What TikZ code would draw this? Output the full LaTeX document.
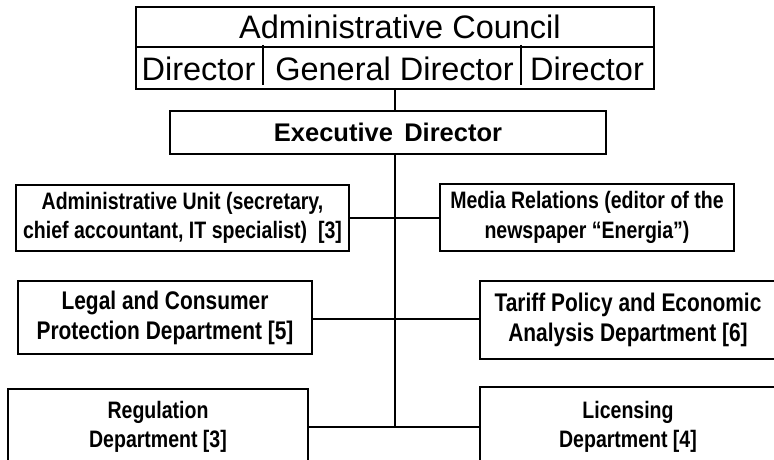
\documentclass[tikz,border=0pt]{standalone}
\usepackage{fontspec}
\setmainfont{Liberation Sans}
\newfontfamily\narrowfont[FakeStretch=0.82]{Liberation Sans}
\begin{document}
\begin{tikzpicture}[x=1pt,y=-1pt,
  frame/.style={draw, line width=1.6pt, inner sep=0pt},
  dept/.style={frame, align=center, font=\narrowfont\bfseries\fontsize{23.8}{29.5}\selectfont},
  bigdept/.style={dept, font=\narrowfont\bfseries\fontsize{25.5}{30}\selectfont},
  bigtxt/.style={inner sep=0pt, font=\fontsize{32.5}{36}\selectfont},
  conn/.style={line width=1.6pt}]
\useasboundingbox (0,0) rectangle (774,460);
% board
\node[frame, minimum width=518pt, minimum height=82pt] (board) at (395,48) {};
\draw[conn] (136,47) -- (654,47);
\draw[conn] (263,45) -- (263,85);
\draw[conn] (521,45) -- (521,85);
\node[bigtxt] (council) at (400,27) {Administrative Council};
\node[bigtxt] (dirl) at (198.5,69) {Director};
\node[bigtxt] (dirg) at (394.5,69) {General Director};
\node[bigtxt] (dirr) at (587,69) {Director};
% executive
\node[frame, minimum width=436pt, minimum height=43pt, font=\bfseries\fontsize{25.5}{29}\selectfont] (exec) at (388,132.5) {Executive\ \,Director};
% departments
\node[dept, minimum width=333pt, minimum height=66pt] (admin) at (182.5,218) {Administrative Unit (secretary,\\chief accountant, IT specialist)\ \ [3]};
\node[dept, minimum width=294pt, minimum height=67pt] (media) at (587,217.5) {Media Relations (editor of the\\newspaper “Energia”)};
\node[bigdept, minimum width=294pt, minimum height=73pt] (legal) at (165,317.5) {Legal and Consumer\\Protection Department [5]};
\node[bigdept, minimum width=296pt, minimum height=78pt] (tariff) at (628,320) {Tariff Policy and Economic\\Analysis Department [6]};
\node[dept, minimum width=300pt, minimum height=76pt] (regul) at (158,427) {Regulation\\Department [3]};
\node[dept, minimum width=296pt, minimum height=80pt] (licen) at (628,427) {Licensing\\Department [4]};
% connectors
\coordinate (spinetop) at (board.south |- exec.south);
\coordinate (spinebot) at (board.south |- 0,428);
\draw[conn] (board.south) -- (board.south |- exec.north);
\draw[conn] (spinetop) -- (spinebot);
\draw[conn] (admin.east) -- (admin.east -| media.west);
\draw[conn] (legal.east |- 0,319) -- (tariff.west |- 0,319);
\draw[conn] (regul.east) -- (regul.east -| licen.west);
\end{tikzpicture}
\end{document}
